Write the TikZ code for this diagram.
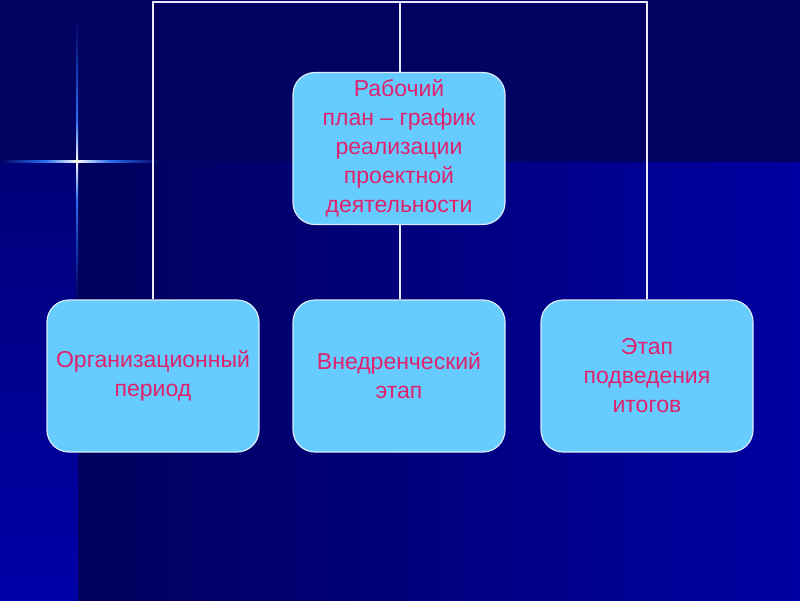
\documentclass[tikz,border=0pt]{standalone}
\usepackage{fontspec}
\setmainfont{Liberation Sans}
\definecolor{bgtop}{RGB}{2,2,98}
\definecolor{bgdark}{RGB}{0,0,92}
\definecolor{bgblue}{RGB}{0,0,162}
\definecolor{stripTop}{RGB}{0,0,120}
\definecolor{stripBot}{RGB}{0,0,168}
\definecolor{boxfill}{RGB}{102,204,255}
\definecolor{boxline}{RGB}{220,235,250}
\definecolor{txt}{RGB}{222,34,108}
\definecolor{glow}{RGB}{40,110,240}
\tikzset{
  stagebox/.style={draw=boxline, line width=1.2pt, fill=boxfill, rounded corners=22pt,
    minimum width=212pt, minimum height=152pt, align=center, text=txt,
    font=\fontsize{23}{29}\selectfont, inner sep=0pt},
  link/.style={draw=white!92!blue, line width=2.2pt}
}
\begin{document}
\begin{tikzpicture}[x=1pt,y=-1pt]
\useasboundingbox (0,0) rectangle (800,600);
% background
\fill[bgtop] (0,0) rectangle (800,162);
\shade[left color=bgdark, right color=bgblue] (78,162) rectangle (800,600);
\shade[top color=stripTop, bottom color=stripBot] (0,162) rectangle (78,600);
% star glow
\shade[left color=bgtop, right color=glow] (0,160) rectangle (45,162);
\shade[left color=glow, right color=white] (45,160) rectangle (77,162);
\shade[left color=white, right color=glow] (77,160) rectangle (110,162);
\shade[left color=glow, right color=bgtop] (110,160) rectangle (160,162);
\shade[top color=bgtop, bottom color=glow] (76,20) rectangle (78,120);
\shade[top color=glow, bottom color=white] (76,120) rectangle (78,161);
\shade[top color=white, bottom color=glow] (76,161) rectangle (78,200);
\shade[top color=glow, bottom color=bgdark] (76,200) rectangle (78,300);
\fill[white!80!yellow] (77,161) circle (1.8pt);
% nodes
\node[stagebox] (plan) at (399,148.5) {Рабочий\\план – график\\реализации\\ проектной\\деятельности};
\node[stagebox] (org) at (153,376) {Организационный\\период};
\node[stagebox] (impl) at (399,376) {Внедренческий\\этап};
\node[stagebox] (fin) at (647,376) {Этап\\подведения\\итогов};
\coordinate (tl) at (153,2);
\coordinate (tm) at (400,2);
\coordinate (tr) at (647,2);
% connectors
\draw[link] (org.north) -- (tl) -- (tr) -- (fin.north);
\draw[link] (tm) -- (tm |- plan.north);
\draw[link] (tm |- plan.south) -- (tm |- impl.north);
\end{tikzpicture}
\end{document}
